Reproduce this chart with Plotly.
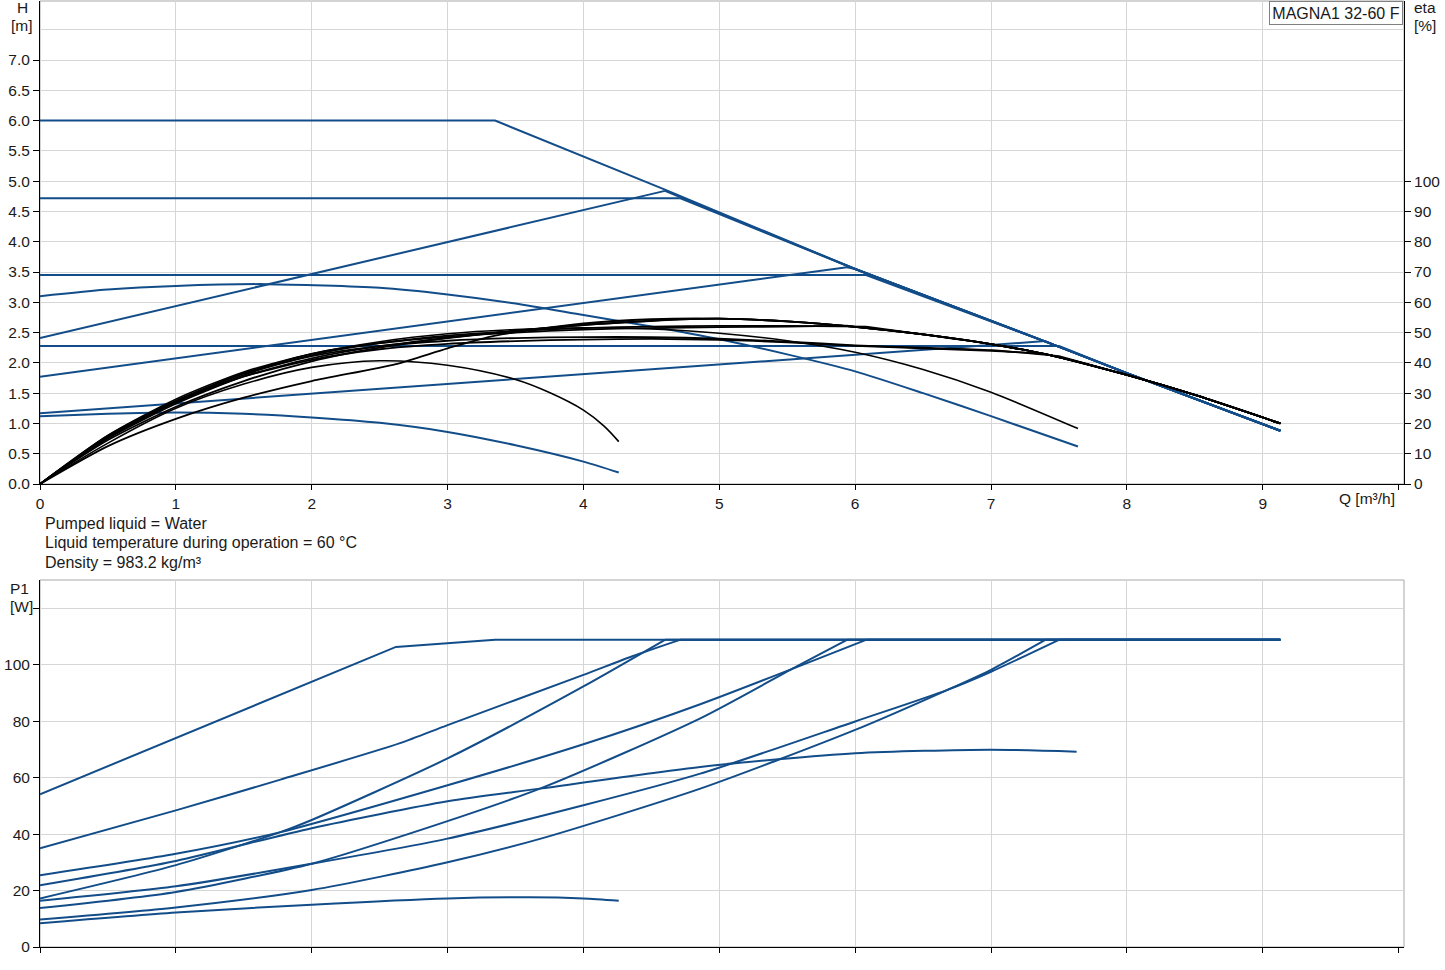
import plotly.graph_objects as go

# ---- H curves [m] (Q in m3/h) ----
q_max = [0, 3.35, 4.6, 6.0, 7.45, 8.0, 9.13]
h_max = [6.0, 6.0, 4.86, 3.55, 2.31, 1.83, 0.88]

q_cp1 = [0, 4.71]
h_cp1 = [4.72, 4.72]
q_cp2 = [0, 6.08]
h_cp2 = [3.45, 3.45]
q_cp3 = [0, 7.50]
h_cp3 = [2.28, 2.28]

q_pp1 = [0, 4.60]
h_pp1 = [2.41, 4.84]
q_pp2 = [0, 5.94]
h_pp2 = [1.77, 3.58]
q_pp3 = [0, 7.40]
h_pp3 = [1.17, 2.36]

q_c1 = [0, 0.5, 1, 1.67, 2.5, 3, 3.5, 4, 4.5, 5, 5.5, 6, 6.5, 7, 7.64]
h_c1 = [3.10, 3.21, 3.27, 3.30, 3.24, 3.13, 2.98, 2.79, 2.60, 2.39, 2.14, 1.86, 1.50, 1.12, 0.62]
q_c2 = [0, 0.5, 1, 1.5, 2, 2.5, 3, 3.5, 4, 4.26]
h_c2 = [1.12, 1.16, 1.18, 1.16, 1.10, 1.01, 0.86, 0.64, 0.37, 0.19]

# ---- P1 curves [W] ----
qp_max = [0, 2.62, 3.35, 9.13]
p_max = [54.1, 106.3, 108.8, 108.8]
qp_cp1 = [0, 1, 1.77, 2.65, 3, 4, 4.36, 4.71]
p_cp1 = [35.0, 48.4, 59.3, 72.2, 78.6, 96.4, 103.0, 108.8]
qp_cp2 = [0, 1, 1.77, 3, 4, 4.86, 6.08]
p_cp2 = [25.4, 33.0, 40.7, 57.3, 71.8, 86.0, 108.8]
qp_cp3 = [0, 1, 2, 2.99, 4, 4.86, 6, 6.68, 7, 7.50]
p_cp3 = [16.4, 21.5, 29.5, 38.3, 50.2, 61.4, 79.9, 91.1, 97.5, 108.8]
qp_pp1 = [0, 1, 1.77, 2, 3, 4, 4.60]
p_pp1 = [17.2, 29.0, 40.7, 45.0, 66.8, 92.3, 108.8]
qp_pp2 = [0, 1, 2, 2.6, 3.68, 4.86, 5.57, 5.94]
p_pp2 = [13.8, 19.5, 29.5, 38.3, 56.1, 81.0, 99.4, 108.8]
qp_pp3 = [0, 1, 2, 3, 3.68, 4.86, 6, 6.68, 7, 7.40]
p_pp3 = [9.7, 14.0, 20.2, 30.0, 38.3, 56.1, 76.9, 91.1, 98.2, 108.8]
qp_c1 = [0, 1, 2, 3, 3.68, 4.86, 6, 6.99, 7.63]
p_c1 = [21.9, 30.5, 42.1, 51.6, 56.1, 63.8, 68.6, 69.9, 69.2]
qp_c2 = [0, 1, 2, 3, 3.6, 4.0, 4.26]
p_c2 = [8.4, 12.2, 15.0, 17.2, 17.6, 17.2, 16.4]

# ---- eta curves [%] ----
qe_max = [0, 0.5, 1, 1.5, 2, 2.62, 3, 3.35, 4, 4.5, 5, 5.5, 6, 6.5, 7, 7.45, 8, 8.5, 9.13]
e_max = [0, 12.5, 21.5, 28.5, 34.0, 39.6, 44.8, 49.0, 53.0, 54.4, 54.6, 53.7, 51.9, 49.4, 46.2, 42.4, 36.0, 29.4, 20.0]
qe_cp1 = [0, 0.5, 1, 1.5, 2, 2.5, 3, 3.5, 4, 4.71]
e_cp1 = [0, 14.5, 25.5, 34.0, 40.5, 45.0, 48.3, 50.6, 52.5, 54.4]
qe_pp1 = [0, 0.5, 1, 1.5, 2, 2.5, 3, 3.5, 4, 4.60]
e_pp1 = [0, 15.0, 26.5, 35.5, 41.5, 45.5, 48.2, 50.5, 52.5, 54.2]
qe_cp2 = [0, 0.5, 1, 1.5, 2, 2.5, 3, 3.5, 4, 4.5, 5, 5.5, 6.08]
e_cp2 = [0, 15.5, 27.0, 36.0, 42.5, 46.5, 49.0, 50.5, 51.5, 52.0, 52.2, 52.2, 52.0]
qe_pp2 = [0, 0.5, 1, 1.5, 2, 2.5, 3, 3.5, 4, 4.5, 5, 5.5, 5.94]
e_pp2 = [0, 15.5, 27.2, 36.5, 43.0, 46.5, 48.6, 50.0, 51.0, 51.5, 51.8, 52.0, 52.3]
qe_cp3 = [0, 0.5, 1, 1.5, 2, 2.5, 3, 3.5, 4, 4.5, 5, 5.5, 6, 6.5, 7, 7.50]
e_cp3 = [0, 16.0, 27.5, 36.5, 42.2, 45.5, 47.3, 48.2, 48.5, 48.5, 48.0, 47.0, 45.8, 45.0, 44.2, 42.2]
qe_pp3 = [0, 0.5, 1, 1.5, 2, 2.5, 3, 3.5, 4, 4.5, 5, 5.5, 6, 6.5, 7, 7.40]
e_pp3 = [0, 15.5, 27.0, 35.5, 41.0, 44.5, 46.3, 47.2, 47.7, 47.9, 47.6, 46.8, 45.6, 44.8, 44.0, 43.0]
qe_c1 = [0, 0.5, 1, 1.5, 2, 2.5, 3, 3.5, 4, 4.5, 5, 5.5, 6, 6.5, 7, 7.64]
e_c1 = [0, 16.0, 28.0, 37.0, 43.0, 47.0, 49.6, 51.0, 51.6, 51.2, 49.8, 47.3, 43.5, 37.8, 30.3, 18.3]
qe_c2 = [0, 0.5, 1, 1.5, 2, 2.5, 3.0, 3.5, 3.75, 4.0, 4.15, 4.26]
e_c2 = [0, 13.5, 25.0, 33.0, 38.5, 40.7, 39.2, 34.5, 30.2, 24.4, 19.2, 14.0]

q_ticks = list(range(10))
h_ticks = [0, 0.5, 1, 1.5, 2, 2.5, 3, 3.5, 4, 4.5, 5, 5.5, 6, 6.5, 7]
eta_ticks = [0, 10, 20, 30, 40, 50, 60, 70, 80, 90, 100]
p_ticks = [0, 20, 40, 60, 80, 100, 120]
info_lines = ["Pumped liquid = Water",
              "Liquid temperature during operation = 60 °C",
              "Density = 983.2 kg/m³"]

BLUE = "#124d89"
BLACK = "#000000"
GRID = "#d6d6d6"
BORDER = "#a8a8a8"
TXT = "#1a1a1a"
FONT = "Liberation Sans, Arial, sans-serif"

fig = go.Figure()


def add_line(q, v, color, xa, ya, shape="spline", width=2, smoothing=0.7):
    fig.add_trace(go.Scatter(x=q, y=v, mode="lines", xaxis=xa, yaxis=ya,
                             line=dict(color=color, width=width, shape=shape, smoothing=smoothing),
                             showlegend=False, hoverinfo="skip"))


def tail(q, v, q_ref, v_ref):
    # rest of the max curve from where the control curve meets it
    tq = [q[-1]] + [a for a in q_ref if a > q[-1]]
    tv = [v[-1]] + [b for a, b in zip(q_ref, v_ref) if a > q[-1]]
    return tq, tv


control = [
    (q_cp1, h_cp1, qp_cp1, p_cp1, qe_cp1, e_cp1),
    (q_pp1, h_pp1, qp_pp1, p_pp1, qe_pp1, e_pp1),
    (q_cp2, h_cp2, qp_cp2, p_cp2, qe_cp2, e_cp2),
    (q_pp2, h_pp2, qp_pp2, p_pp2, qe_pp2, e_pp2),
    (q_cp3, h_cp3, qp_cp3, p_cp3, qe_cp3, e_cp3),
    (q_pp3, h_pp3, qp_pp3, p_pp3, qe_pp3, e_pp3),
]

# head curves
add_line(q_max, h_max, BLUE, "x", "y", "linear")
for qh, h, qp, p, qe, e in control:
    add_line(qh, h, BLUE, "x", "y", "linear")
    add_line(*tail(qh, h, q_max, h_max), BLUE, "x", "y", "linear")
add_line(q_c1, h_c1, BLUE, "x", "y")
add_line(q_c2, h_c2, BLUE, "x", "y")

# efficiency curves
add_line(qe_max, e_max, BLACK, "x", "y2", width=1.8)
for qh, h, qp, p, qe, e in control:
    add_line(qe, e, BLACK, "x", "y2", width=1.8)
    add_line(*tail(qe, e, qe_max, e_max), BLACK, "x", "y2", width=1.8)
add_line(qe_c1, e_c1, BLACK, "x", "y2", width=1.6)
add_line(qe_c2, e_c2, BLACK, "x", "y2", width=1.6, smoothing=1.0)

# power curves
add_line(qp_max, p_max, BLUE, "x2", "y3", "linear")
for qh, h, qp, p, qe, e in control:
    add_line(qp, p, BLUE, "x2", "y3")
    add_line(*tail(qp, p, qp_max, p_max), BLUE, "x2", "y3", "linear")
add_line(qp_c1, p_c1, BLUE, "x2", "y3")
add_line(qp_c2, p_c2, BLUE, "x2", "y3")


def px(x, y):
    # figure pixel -> paper coords (plot area 40..1404 x 1..947)
    return (x - 40) / 1364, (947 - y) / 946


annotations = []
for text, (x, y), anchor in [("H", (22, 8), "center"), ("[m]", (22, 26), "center"),
                             ("eta", (1412, 8), "left"), ("[%]", (1412, 26), "left"),
                             ("P1", (8, 588), "left"), ("[W]", (8, 606), "left")]:
    xp, yp = px(x, y)
    annotations.append(dict(text=text, x=xp, y=yp, xref="paper", yref="paper",
                            xanchor=anchor, yanchor="middle", showarrow=False,
                            font=dict(size=15.5, color=TXT)))
for i, line in enumerate(info_lines):
    xp, yp = px(43, 523 + i * 19.5)
    annotations.append(dict(text=line, x=xp, y=yp, xref="paper", yref="paper",
                            xanchor="left", yanchor="middle", showarrow=False,
                            font=dict(size=16, color=TXT)))
xp, yp = px(1397, 499)
annotations.append(dict(text="Q [m³/h]", x=xp, y=yp, xref="paper", yref="paper",
                        xanchor="right", yanchor="middle", showarrow=False,
                        font=dict(size=15.5, color=TXT)))
xp, yp = px(1403, 1)
annotations.append(dict(text="MAGNA1 32-60 F", x=xp, y=yp, xref="paper", yref="paper",
                        xanchor="right", yanchor="top", showarrow=False,
                        width=128, height=18, borderpad=2, bgcolor="white",
                        bordercolor="#808080", borderwidth=1,
                        font=dict(size=16, color=TXT)))

top_lo = px(0, 484)[1]
bot_hi = px(0, 580)[1]

axis_common = dict(showline=True, linecolor="black", linewidth=1, ticks="outside",
                   tickcolor="black", zeroline=False)

fig.update_layout(
    width=1445, height=970,
    margin=dict(l=40, r=41, t=1, b=23),
    paper_bgcolor="white", plot_bgcolor="white",
    font=dict(family=FONT, size=15.5, color=TXT),
    xaxis=dict(domain=[0, 1], anchor="y", range=[0, 10.04], tickvals=q_ticks, ticklen=5,
               showgrid=True, gridcolor=GRID,
               minor=dict(tickvals=[10], ticks="outside", ticklen=5, tickcolor="black", showgrid=False),
               **axis_common),
    yaxis=dict(domain=[top_lo, 1], anchor="x", range=[0, 7.975], tickvals=h_ticks,
               ticktext=[f"{v:.1f}" for v in h_ticks], ticklen=6,
               showgrid=True, gridcolor=GRID,
               minor=dict(tickvals=[7.5], ticks="", showgrid=True, gridcolor=GRID),
               **axis_common),
    yaxis2=dict(overlaying="y", anchor="x", side="right", range=[0, 159.5], tickvals=eta_ticks,
                ticklen=6, showgrid=False, **axis_common),
    xaxis2=dict(domain=[0, 1], anchor="y3", range=[0, 10.04], tickvals=q_ticks, ticklen=5,
                showticklabels=False, showgrid=True, gridcolor=GRID,
                minor=dict(tickvals=[10], ticks="outside", ticklen=5, tickcolor="black", showgrid=False),
                **axis_common),
    yaxis3=dict(domain=[0, bot_hi], anchor="x2", range=[0, 130], tickvals=p_ticks,
                ticktext=[str(v) for v in p_ticks[:-1]] + [""], ticklen=6,
                showgrid=True, gridcolor=GRID, **axis_common),
    shapes=[
        dict(type="rect", xref="paper", yref="paper", x0=0, x1=1, y0=top_lo, y1=1,
             line=dict(color=BORDER, width=1), layer="below"),
        dict(type="rect", xref="paper", yref="paper", x0=0, x1=1, y0=0, y1=bot_hi,
             line=dict(color=BORDER, width=1), layer="below"),
    ],
    annotations=annotations,
)

# page body has a default 8px margin; drop it so the figure sits at the corner
fig.write_html("out.html", config={"displayModeBar": False},
               post_script="document.body.style.margin = '0';")
